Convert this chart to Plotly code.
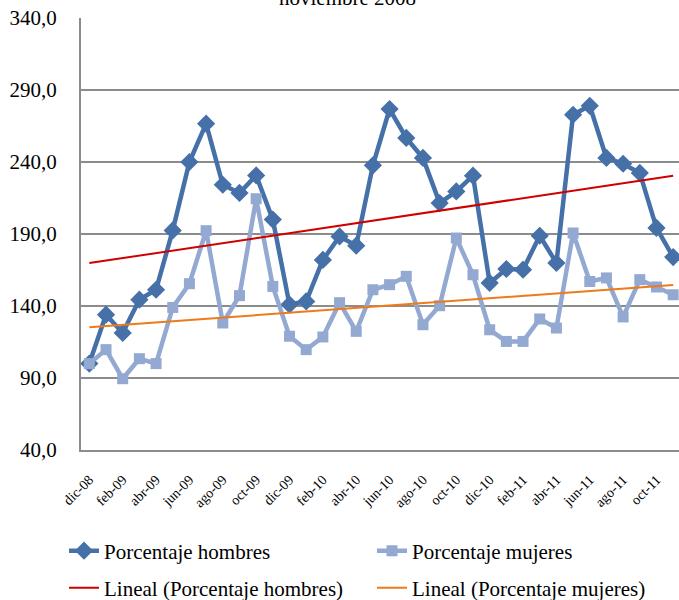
import numpy as np
import plotly.graph_objects as go

meses = ["dic-08", "ene-09", "feb-09", "mar-09", "abr-09", "may-09", "jun-09", "jul-09",
         "ago-09", "sep-09", "oct-09", "nov-09", "dic-09", "ene-10", "feb-10", "mar-10",
         "abr-10", "may-10", "jun-10", "jul-10", "ago-10", "sep-10", "oct-10", "nov-10",
         "dic-10", "ene-11", "feb-11", "mar-11", "abr-11", "may-11", "jun-11", "jul-11",
         "ago-11", "sep-11", "oct-11", "nov-11"]

hombres = [100.0, 134.0, 121.3, 144.4, 151.3, 192.5, 240.0, 266.6, 224.2, 218.5,
           230.7, 200.0, 141.0, 143.2, 172.0, 188.3, 181.9, 237.7, 276.8, 256.7,
           242.8, 211.5, 219.6, 230.5, 156.0, 165.7, 165.2, 188.8, 169.9, 272.8,
           279.0, 242.8, 238.8, 232.4, 194.2, 174.0]

mujeres = [100.0, 109.7, 89.5, 103.4, 100.0, 139.0, 155.5, 192.3, 128.2, 147.2,
           214.5, 153.6, 119.0, 109.7, 118.5, 142.3, 122.4, 151.3, 154.8, 160.6,
           127.0, 140.2, 187.2, 161.7, 123.5, 115.4, 115.4, 131.0, 124.7, 190.7,
           157.0, 159.5, 132.4, 158.3, 153.2, 147.8]

tick_labels = meses[::2]
y_ticks = [40, 90, 140, 190, 240, 290, 340]

idx = np.arange(len(meses))
ph = np.polyfit(idx, hombres, 1)
pm = np.polyfit(idx, mujeres, 1)
trend_h = np.polyval(ph, idx)
trend_m = np.polyval(pm, idx)

C_H = "#4670A8"
C_M = "#93A9D1"
C_TH = "#D00000"
C_TM = "#EE7A1A"
FONT = "Liberation Serif, Times New Roman, serif"

fig = go.Figure()
fig.add_trace(go.Scatter(x=idx, y=hombres, mode="lines+markers", name="Porcentaje hombres",
                         line=dict(color=C_H, width=4.5),
                         marker=dict(symbol="diamond", size=14, color=C_H), legend="legend"))
fig.add_trace(go.Scatter(x=idx, y=mujeres, mode="lines+markers", name="Porcentaje mujeres",
                         line=dict(color=C_M, width=4.5),
                         marker=dict(symbol="square", size=11, color=C_M), legend="legend2"))
fig.add_trace(go.Scatter(x=idx, y=trend_h, mode="lines", name="Lineal (Porcentaje hombres)",
                         line=dict(color=C_TH, width=2), legend="legend3"))
fig.add_trace(go.Scatter(x=idx, y=trend_m, mode="lines", name="Lineal (Porcentaje mujeres)",
                         line=dict(color=C_TM, width=2), legend="legend4"))

fig.add_annotation(text="noviembre 2008", xref="paper", yref="paper", x=0.445, y=1.046,
                   xanchor="center", yanchor="middle", showarrow=False,
                   font=dict(family=FONT, size=21, color="black"))

leg_common = dict(orientation="h", xref="container", yref="container",
                  xanchor="left", yanchor="middle",
                  font=dict(family=FONT, size=21, color="black"),
                  itemwidth=30, bgcolor="rgba(0,0,0,0)")

col1 = 64 / 679
col2 = 372 / 679
row1 = 1 - 551 / 600
row2 = 1 - 588 / 600

fig.update_layout(
    width=679, height=600,
    margin=dict(l=81, r=0, t=18, b=150, autoexpand=False),
    paper_bgcolor="white", plot_bgcolor="white",
    separators=",.",
    font=dict(family=FONT, color="black"),
    legend=dict(leg_common, x=col1, y=row1),
    legend2=dict(leg_common, x=col2, y=row1),
    legend3=dict(leg_common, x=col1, y=row2),
    legend4=dict(leg_common, x=col2, y=row2),
    showlegend=True,
)
fig.update_xaxes(range=[-0.5, 35.35], tickmode="array", tickvals=idx[::2], ticktext=tick_labels,
                 tickangle=-45, tickfont=dict(family=FONT, size=14, color="black"),
                 showgrid=False, showline=True, linecolor="#8c8c8c", linewidth=2,
                 ticks="", ticklabelstandoff=14, zeroline=False, automargin=False)
fig.update_yaxes(range=[40, 340], tickmode="array", tickvals=y_ticks, tickformat=".1f",
                 tickfont=dict(family=FONT, size=21, color="black"),
                 showgrid=True, gridcolor="#8c8c8c", gridwidth=1.5,
                 showline=True, linecolor="#8c8c8c", linewidth=2,
                 ticks="", ticklabelstandoff=18, zeroline=False, automargin=False)

fig.write_html("out.html", config={"displayModeBar": False},
               post_script="document.body.style.margin='0';")
